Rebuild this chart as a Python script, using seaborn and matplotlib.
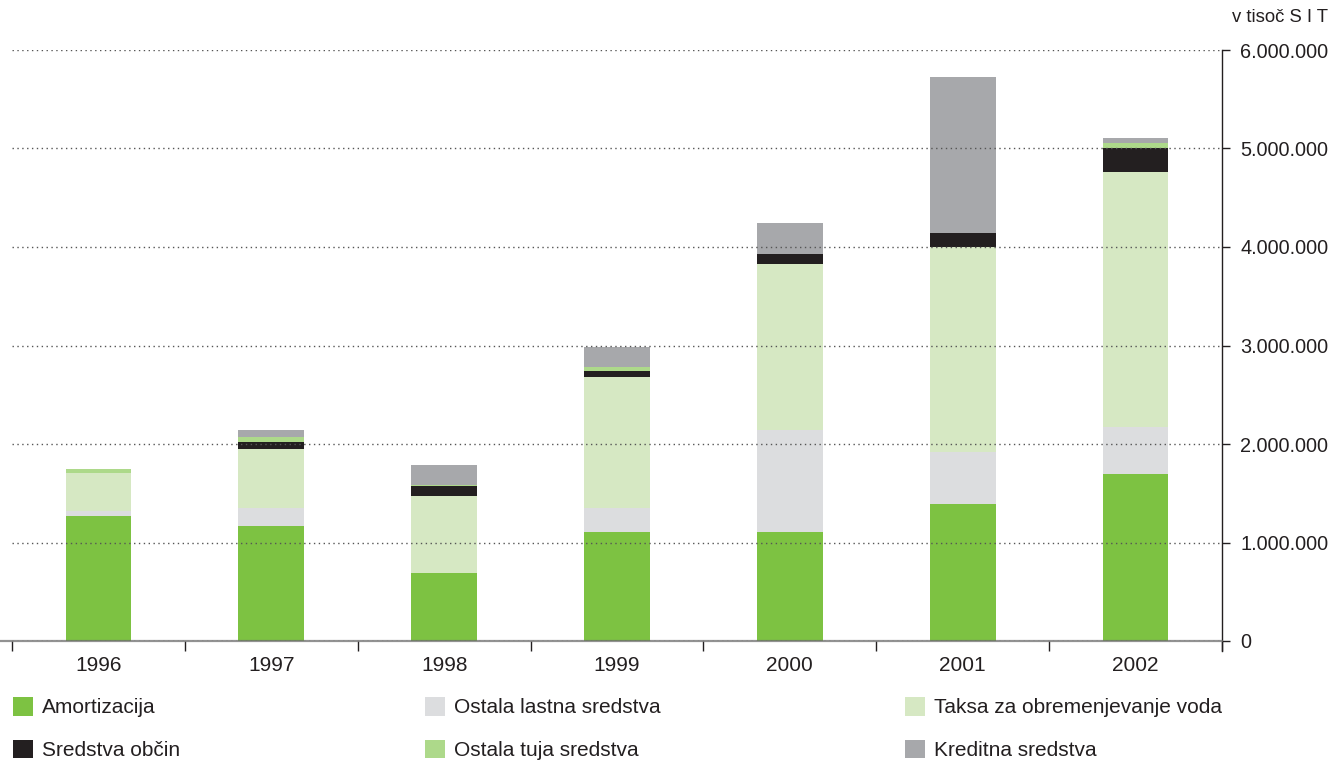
import numpy as np
import matplotlib
matplotlib.use("Agg")
import matplotlib.pyplot as plt
from matplotlib.patches import Patch
from matplotlib.ticker import FuncFormatter
import seaborn as sns

# podatki v tisoč SIT
years = ["1996", "1997", "1998", "1999", "2000", "2001", "2002"]
amortizacija = [1268000, 1168000, 690000, 1107000, 1110000, 1391000, 1695000]
ostala_lastna = [50000, 185000, 0, 246000, 1035000, 531000, 478000]
taksa = [386000, 593000, 782000, 1327000, 1682000, 2078000, 2588000]
sredstva_obcin = [0, 74000, 102000, 61000, 102000, 142000, 244000]
ostala_tuja = [40000, 51000, 10000, 41000, 0, 0, 51000]
kreditna = [0, 71000, 203000, 203000, 315000, 1584000, 51000]

series_names = ["Amortizacija", "Ostala lastna sredstva", "Taksa za obremenjevanje voda",
                "Sredstva občin", "Ostala tuja sredstva", "Kreditna sredstva"]
series_values = [amortizacija, ostala_lastna, taksa, sredstva_obcin, ostala_tuja, kreditna]
colors = ["#7dc242", "#dcdddf", "#d6e8c3", "#231f20", "#add98a", "#a7a8ab"]
y_ticks = [0, 1000000, 2000000, 3000000, 4000000, 5000000, 6000000]

TEXT = "#231f20"

sns.set_style("white")
plt.rcParams["font.family"] = ["Liberation Sans", "DejaVu Sans"]
plt.rcParams["text.color"] = TEXT
plt.rcParams["xtick.color"] = TEXT
plt.rcParams["ytick.color"] = TEXT

W, H = 1340, 762
fig = plt.figure(figsize=(W / 100, H / 100), dpi=100)
ax = fig.add_axes([12 / W, (H - 641) / H, (1222 - 12) / W, (641 - 50) / H])

bottom = np.zeros(len(years))
for name, vals, col in zip(series_names, series_values, colors):
    sns.barplot(x=years, y=vals, bottom=bottom.copy(), color=col, width=0.38,
                saturation=1, errorbar=None, linewidth=0, ax=ax, zorder=2)
    bottom += np.array(vals)

ax.set_xlim(-0.5, len(years) - 0.5)
ax.set_ylim(0, 6000000)

# mreža
ax.set_yticks(y_ticks)
ax.yaxis.grid(True, linestyle=(0, (1, 2.5)), color="#555555", lw=1, zorder=4)
ax.xaxis.grid(False)
ax.set_axisbelow(False)

# osnovna črta
ax.axhline(0, xmin=-0.011, xmax=1, color="#6e6e6e", lw=1.6, alpha=0.75,
           zorder=5, clip_on=False)

# os y na desni
for s in ["left", "top", "bottom"]:
    ax.spines[s].set_visible(False)
ax.spines["right"].set_visible(True)
ax.spines["right"].set_color(TEXT)
ax.spines["right"].set_linewidth(1)
ax.spines["right"].set_bounds(-100000, 6000000)
ax.yaxis.tick_right()
ax.yaxis.set_major_formatter(FuncFormatter(lambda v, p: f"{int(v):,}".replace(",", ".")))
ax.tick_params(axis="y", which="major", length=6, width=1, pad=7, labelsize=14.3,
               right=True, left=False)

# os x
ax.set_xticks(range(len(years)))
ax.set_xticklabels(years)
ax.set_xticks(np.arange(-0.5, len(years)), minor=True)
ax.tick_params(axis="x", which="major", length=0, pad=11, labelsize=15)
ax.tick_params(axis="x", which="minor", length=7, width=1, color=TEXT, bottom=True)
ax.set_xlabel("")
ax.set_ylabel("")

fig.text(1328 / W, 1 - 18 / H, "v tisoč S I T", ha="right", va="center", fontsize=13.3)

# legenda v treh stolpcih
handles = [Patch(facecolor=c, edgecolor="none") for c in colors]
col_x = [13 / W, 425 / W, 905 / W]
for i, x in enumerate(col_x):
    idx = [i, i + 3]
    fig.legend([handles[j] for j in idx], [series_names[j] for j in idx],
               loc="center left", bbox_to_anchor=(x, 1 - 728.5 / H),
               frameon=False, fontsize=15, handlelength=0.95, handleheight=1.0,
               handletextpad=0.45, labelspacing=1.07, borderpad=0, borderaxespad=0)

fig.savefig("out.png", dpi=100)
